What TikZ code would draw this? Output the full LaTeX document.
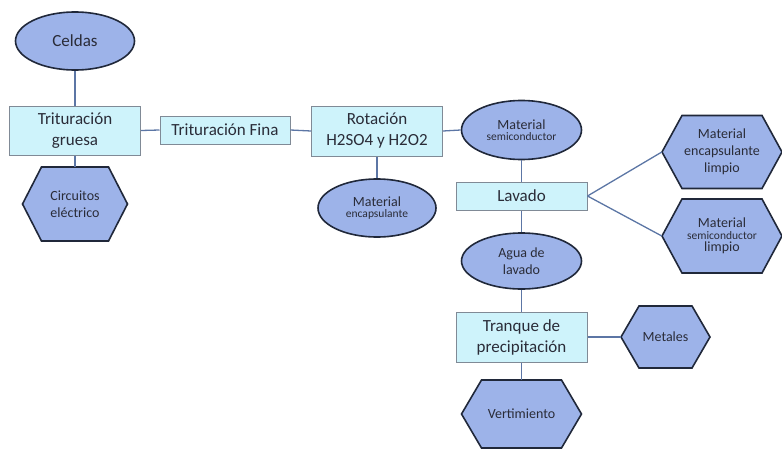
\documentclass[tikz,border=0pt]{standalone}
\usepackage{fontspec}
\setmainfont{Carlito}
\usetikzlibrary{shapes.geometric}

\definecolor{boxfill}{RGB}{206,243,251}
\definecolor{boxline}{RGB}{128,138,150}
\definecolor{shapefill}{RGB}{157,179,233}
\definecolor{shapeline}{RGB}{32,40,58}
\definecolor{linkcol}{RGB}{92,118,165}
\definecolor{txt}{RGB}{42,44,56}

\newcommand{\bigtxt}{\fontsize{17}{21}\selectfont}
\newcommand{\midtxt}{\fontsize{14}{17}\selectfont}
\newcommand{\smalltxt}{\fontsize{11.5}{14}\selectfont}

% flat-topped hexagon: centre x, centre y, width, height, inset of the side points
\newcommand{\hexbody}[5]{%
  \filldraw[hexedge]
    (#1-#3/2,#2) -- (#1-#3/2+#5,#2-#4/2) -- (#1+#3/2-#5,#2-#4/2) --
    (#1+#3/2,#2) -- (#1+#3/2-#5,#2+#4/2) -- (#1-#3/2+#5,#2+#4/2) -- cycle;}

\tikzset{
  procbox/.style={rectangle, draw=boxline, line width=1pt, fill=boxfill,
    text=txt, align=center, inner sep=0pt, font=\bigtxt},
  oval/.style={ellipse, draw=shapeline, line width=1.6pt, fill=shapefill,
    text=txt, align=center, inner sep=0pt},
  hexedge/.style={draw=shapeline, line width=1.6pt, fill=shapefill, line join=miter},
  hexlabel/.style={rectangle, text=txt, align=center, inner sep=0pt},
  link/.style={draw=linkcol, line width=1.3pt}
}

\begin{document}
\begin{tikzpicture}[x=1pt, y=-1pt]
\useasboundingbox (0,0) rectangle (782,450);

% hexagon bodies
\hexbody{75}{204}{105}{74}{19}
\hexbody{665.5}{337}{89}{62}{18}
\hexbody{521.5}{414}{120}{68}{20}
\hexbody{722}{152}{120}{73}{20}
\hexbody{722}{236}{120}{74}{20}

% process boxes
\node[procbox, minimum width=131pt, minimum height=49pt] (gruesa) at (75,130.5) {Trituración\\gruesa};
\node[procbox, minimum width=130pt, minimum height=28pt] (fina) at (225,130) {Trituración Fina};
\node[procbox, minimum width=131pt, minimum height=50pt] (rot) at (377,131) {Rotación\\H2SO4 y H2O2};
\node[procbox, minimum width=131pt, minimum height=28pt] (lav) at (521.5,196) {Lavado};
\node[procbox, minimum width=131pt, minimum height=50pt] (tranque) at (521.5,337) {Tranque de\\precipitación};

% ovals
\node[oval, minimum width=119pt, minimum height=58pt, font=\bigtxt] (celdas) at (75,41) {Celdas};
\node[oval, minimum width=118pt, minimum height=58pt] (encap) at (377,208)
  {{\midtxt Material}\\[-1pt]{\smalltxt encapsulante}};
\node[oval, minimum width=120pt, minimum height=59pt] (semi) at (521.5,130)
  {{\midtxt Material}\\[-1pt]{\smalltxt semiconductor}};
\node[oval, minimum width=120pt, minimum height=56pt, font=\midtxt] (agua) at (521.5,261) {Agua de\\lavado};

% hexagon labels
\node[hexlabel, minimum width=105pt, minimum height=74pt, font=\midtxt] (circ) at (75,204) {Circuitos\\eléctrico};
\node[hexlabel, minimum width=89pt, minimum height=62pt, font=\midtxt] (metales) at (665.5,337) {Metales};
\node[hexlabel, minimum width=120pt, minimum height=68pt, font=\midtxt] (vert) at (521.5,414) {Vertimiento};
\node[hexlabel, minimum width=120pt, minimum height=73pt, font=\midtxt] (limpioA) at (722,152)
  {Material\\encapsulante\\limpio};
\node[hexlabel, minimum width=120pt, minimum height=74pt] (limpioB) at (722,236)
  {{\midtxt Material}\\{\smalltxt semiconductor}\\{\midtxt limpio}};

% connectors
\draw[link] (celdas.south) -- (gruesa.north);
\draw[link] (gruesa.south) -- (circ.north);
\draw[link] (gruesa.east) -- (fina.west);
\draw[link] (fina.east) -- (rot.west);
\draw[link] (rot.east) -- (semi.west);
\draw[link] (rot.south) -- (encap.north);
\draw[link] (semi.south) -- (lav.north);
\draw[link] (lav.east) -- (limpioA.west);
\draw[link] (lav.east) -- (limpioB.west);
\draw[link] (lav.south) -- (agua.north);
\draw[link] (agua.south) -- (tranque.north);
\draw[link] (tranque.east) -- (metales.west);
\draw[link] (tranque.south) -- (vert.north);
\end{tikzpicture}
\end{document}
